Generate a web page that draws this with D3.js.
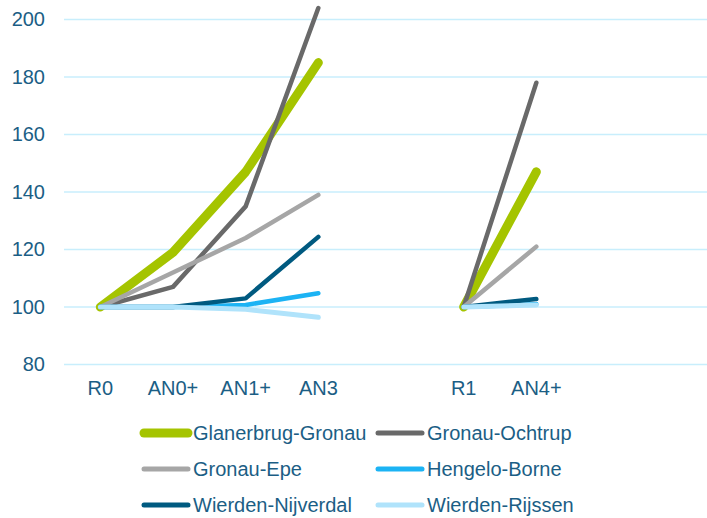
<!DOCTYPE html>
<html>
<head>
<meta charset="utf-8">
<script src="https://cdn.jsdelivr.net/npm/d3@7"></script>
<style>
  html, body { margin: 0; padding: 0; background: #ffffff; }
  svg { display: block; }
  text { font-family: "Liberation Sans", Arial, sans-serif; }
</style>
</head>
<body>
<svg id="chart" width="707" height="518"></svg>
<script>
// Category slots along the x axis; blank slots separate the two groups.
const categories = ["R0", "AN0+", "AN1+", "AN3", "", "R1", "AN4+", " ", "  "];
const groupA = ["R0", "AN0+", "AN1+", "AN3"];
const groupB = ["R1", "AN4+"];
const yTicks = [80, 100, 120, 140, 160, 180, 200];

const seriesNames = ["Glanerbrug-Gronau", "Gronau-Ochtrup", "Gronau-Epe", "Hengelo-Borne", "Wierden-Nijverdal", "Wierden-Rijssen"];
const seriesColors = ["#a5c400", "#696969", "#a6a6a6", "#1cb3f4", "#005a80", "#b0e3fb"];
const seriesWidths = [9, 4.5, 4.5, 4.5, 4.5, 5];

// Index values per series: first group (R0..AN3), second group (R1, AN4+)
const valuesA = [
  [100, 119, 147, 185],
  [100, 107, 135, 204],
  [100, 112, 124, 139],
  [100, 100, 100.7, 104.8],
  [100, 100, 103, 124.4],
  [100, 100, 99.2, 96.4]
];
const valuesB = [
  [100, 147],
  [100, 178],
  [100, 121],
  [100, 101],
  [100, 102.8],
  [100, 100.7]
];

const svg = d3.select("#chart");
const textColor = "#1b5e85";
const gridColor = "#c8eefc";
const fontSize = 20;

const plotLeft = 64, plotRight = 718;
const x = d3.scaleBand().domain(categories).range([plotLeft, plotRight]);
const xc = c => x(c) + x.bandwidth() / 2;
const y = d3.scaleLinear().domain([80, 200]).range([364.5, 19.5]);

// Gridlines
svg.append("g")
  .selectAll("line")
  .data(yTicks)
  .join("line")
  .attr("x1", plotLeft).attr("x2", 707)
  .attr("y1", d => y(d)).attr("y2", d => y(d))
  .attr("stroke", gridColor)
  .attr("stroke-width", 1.5);

// Y axis labels
const yAxis = d3.axisLeft(y).tickValues(yTicks).tickSize(0).tickPadding(0);
svg.append("g")
  .attr("transform", "translate(45,0)")
  .call(yAxis)
  .call(g => g.select(".domain").remove())
  .call(g => g.selectAll("text")
    .attr("fill", textColor)
    .attr("font-size", fontSize)
    .attr("font-family", "Liberation Sans, Arial, sans-serif"));

// X axis labels
const xAxis = d3.axisBottom(x).tickSize(0).tickPadding(0);
svg.append("g")
  .attr("transform", "translate(0,381)")
  .call(xAxis)
  .call(g => g.select(".domain").remove())
  .call(g => g.selectAll("text")
    .attr("fill", textColor)
    .attr("font-size", fontSize)
    .attr("font-family", "Liberation Sans, Arial, sans-serif"));

// Lines
const line = d3.line().x(d => xc(d[0])).y(d => y(d[1]));
const lines = svg.append("g");
seriesNames.forEach((name, i) => {
  [[groupA, valuesA[i]], [groupB, valuesB[i]]].forEach(([cats, vals]) => {
    lines.append("path")
      .datum(cats.map((c, k) => [c, vals[k]]))
      .attr("d", line)
      .attr("fill", "none")
      .attr("stroke", seriesColors[i])
      .attr("stroke-width", seriesWidths[i])
      .attr("stroke-linecap", "round")
      .attr("stroke-linejoin", "round");
  });
});

// Legend: two columns, three rows
const legend = svg.append("g");
const colX = [141, 375];
const rowY = [433, 469, 505];
seriesNames.forEach((name, i) => {
  const cx = colX[i % 2], cy = rowY[Math.floor(i / 2)];
  const g = legend.append("g").attr("transform", `translate(${cx},${cy})`);
  g.append("line")
    .attr("x1", 3).attr("x2", 47)
    .attr("y1", 0).attr("y2", 0)
    .attr("stroke", seriesColors[i])
    .attr("stroke-width", i === 0 ? 9 : 5)
    .attr("stroke-linecap", "round");
  g.append("text")
    .attr("x", 52).attr("y", 0)
    .attr("dy", "0.35em")
    .attr("fill", textColor)
    .attr("font-size", fontSize)
    .text(name);
});
</script>
</body>
</html>
